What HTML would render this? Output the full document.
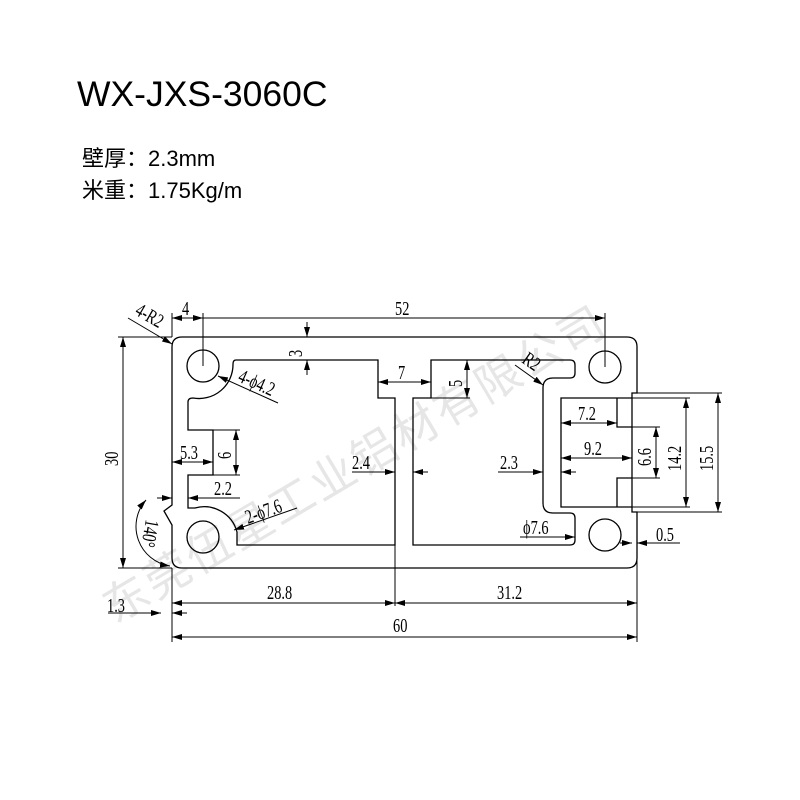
<!DOCTYPE html>
<html><head><meta charset="utf-8"><style>
html,body{margin:0;padding:0;background:#fff;width:800px;height:800px;overflow:hidden}
svg{display:block}
.t{font-family:"Liberation Serif",serif;font-size:20px;fill:#000}
</style></head><body>
<svg width="800" height="800" viewBox="0 0 800 800" xmlns="http://www.w3.org/2000/svg">
<defs>
<marker id="a" viewBox="0 0 10 6" refX="10" refY="3" markerWidth="10" markerHeight="6" orient="auto-start-reverse" markerUnits="userSpaceOnUse"><path d="M0,0 L10,3 L0,6 z" fill="#000"/></marker>
</defs>
<text x="77" y="106" font-family="Liberation Sans, sans-serif" font-size="35.5" fill="#000">WX-JXS-3060C</text>
<text x="82" y="166" font-family="Liberation Sans, 'Noto Sans CJK SC', sans-serif" font-size="22" fill="#000">壁厚：2.3mm</text>
<text x="82" y="198" font-family="Liberation Sans, 'Noto Sans CJK SC', sans-serif" font-size="22" fill="#000">米重：1.75Kg/m</text>

<text transform="translate(115,624) rotate(-30.6)" font-family="'Noto Sans CJK SC', sans-serif" font-size="45" fill="#e6e6e6" letter-spacing="3">东莞伍星工业铝材有限公司</text>

<g fill="none" stroke="#000" stroke-width="1.3">
<path d="M182,337 H627 Q637,337 637,347 V393 H632 V512 H637 V558 Q637,568 627,568 H182 Q172,568 172,558 V525 L164,511 L172,505 V347 Q172,337 182,337 Z"/>
<path d="M236,360 H378 V398 H395 V545 H237 V532 A34,34 0 0 0 195,508 H188 V475 H213 V430 H188 V402 Q188,398 193,398 A34,34 0 0 0 233,364 Q233,360 236,360 Z"/>
<path d="M431,360 H570 Q575,360 575,365 V373 Q575,378 570,378 H553 Q543,378 543,388 V503 Q543,513 553,513 H570 Q575,513 575,518 V540 Q575,545 570,545 H413 V398 H431 Z"/>
<path d="M632,398 H561 V507 H632 M617,398 V427 H632 M617,507 V478 H632"/>
<circle cx="203" cy="366" r="16"/><circle cx="203" cy="537" r="16"/>
<circle cx="605" cy="367" r="16"/><circle cx="605" cy="535" r="16"/>
</g>

<g fill="none" stroke="#000" stroke-width="1">
<path d="M118,337 H172 M118,568 H172 M203,313 V366 M605,313 V367 M172,568 V642 M637,512 V642 M395,545 V606 M213,430 H240 M213,475 H240 M617,427 H660 M617,478 H660 M632,398 H690 M632,507 H690 M637,393 H722 M637,512 H722 M431,360 H470 M431,398 H470 M172,337 V313"/>
<path d="M123,337 V568" marker-start="url(#a)" marker-end="url(#a)"/>
<path d="M172,318 H203" marker-start="url(#a)" marker-end="url(#a)"/>
<path d="M203,318 H605" marker-end="url(#a)"/>
<path d="M307,322 V337" marker-end="url(#a)"/>
<path d="M307,375 V360" marker-end="url(#a)"/>
<path d="M378,382 H431" marker-start="url(#a)" marker-end="url(#a)"/>
<path d="M467,360 V398" marker-start="url(#a)" marker-end="url(#a)"/>
<path d="M172,462 H213" marker-start="url(#a)" marker-end="url(#a)"/>
<path d="M236,430 V475" marker-start="url(#a)" marker-end="url(#a)"/>
<path d="M240,498 H188" marker-end="url(#a)"/>
<path d="M157,498 H172" marker-end="url(#a)"/>
<path d="M352,472 H395" marker-end="url(#a)"/>
<path d="M428,472 H413" marker-end="url(#a)"/>
<path d="M498,472 H543" marker-end="url(#a)"/>
<path d="M576,472 H561" marker-end="url(#a)"/>
<path d="M561,423 H617" marker-start="url(#a)" marker-end="url(#a)"/>
<path d="M561,458 H632" marker-start="url(#a)" marker-end="url(#a)"/>
<path d="M656,427 V478" marker-start="url(#a)" marker-end="url(#a)"/>
<path d="M686,398 V507" marker-start="url(#a)" marker-end="url(#a)"/>
<path d="M718,393 V512" marker-start="url(#a)" marker-end="url(#a)"/>
<path d="M620,543 H632" marker-end="url(#a)"/>
<path d="M680,543 H637" marker-end="url(#a)"/>
<path d="M172,603 H395" marker-start="url(#a)" marker-end="url(#a)"/>
<path d="M395,603 H637" marker-start="url(#a)" marker-end="url(#a)"/>
<path d="M172,637 H637" marker-start="url(#a)" marker-end="url(#a)"/>
<path d="M108,613 H161" marker-end="url(#a)"/>
<path d="M187,613 H172" marker-end="url(#a)"/>
<path d="M128,318 L172,344" marker-end="url(#a)"/>
<path d="M278,403 L218,376" marker-end="url(#a)"/>
<path d="M297,508 L234,530" marker-end="url(#a)"/>
<path d="M515,365 L543,385" marker-end="url(#a)"/>
<path d="M520,537 L575,537" marker-end="url(#a)"/>
<path d="M146,500 A40,40 0 0 0 170,566" marker-start="url(#a)" marker-end="url(#a)"/>
</g>

<g class="t">
<text transform="translate(182,315) scale(0.72,1)">4</text>
<text transform="translate(395,315) scale(0.72,1)">52</text>
<text transform="translate(118,466) rotate(-90) scale(0.72,1)">30</text>
<text transform="translate(302,357) rotate(-90) scale(0.72,1)">3</text>
<text transform="translate(398,379) scale(0.72,1)">7</text>
<text transform="translate(462,387) rotate(-90) scale(0.72,1)">5</text>
<text transform="translate(180,459) scale(0.72,1)">5.3</text>
<text transform="translate(231,459) rotate(-90) scale(0.72,1)">6</text>
<text transform="translate(214,495) scale(0.72,1)">2.2</text>
<text transform="translate(352,469) scale(0.72,1)">2.4</text>
<text transform="translate(500,469) scale(0.72,1)">2.3</text>
<text transform="translate(578,420) scale(0.72,1)">7.2</text>
<text transform="translate(584,455) scale(0.72,1)">9.2</text>
<text transform="translate(651,466) rotate(-90) scale(0.72,1)">6.6</text>
<text transform="translate(681,471) rotate(-90) scale(0.72,1)">14.2</text>
<text transform="translate(713,471) rotate(-90) scale(0.72,1)">15.5</text>
<text transform="translate(523,534) scale(0.72,1)">ϕ7.6</text>
<text transform="translate(656,541) scale(0.72,1)">0.5</text>
<text transform="translate(267,599) scale(0.72,1)">28.8</text>
<text transform="translate(497,599) scale(0.72,1)">31.2</text>
<text transform="translate(393,632) scale(0.72,1)">60</text>
<text transform="translate(107,612) scale(0.72,1)">1.3</text>
<text transform="translate(134,314) rotate(30) scale(0.72,1)">4-R2</text>
<text transform="translate(237,381) rotate(24) scale(0.72,1)">4-ϕ4.2</text>
<text transform="translate(248,524) rotate(-20) scale(0.72,1)">2-ϕ7.6</text>
<text transform="translate(521,362) rotate(35) scale(0.72,1)">R2</text>
<text transform="translate(146,519) rotate(100) scale(0.72,1)">140°</text>
</g>
</svg>
</body></html>
